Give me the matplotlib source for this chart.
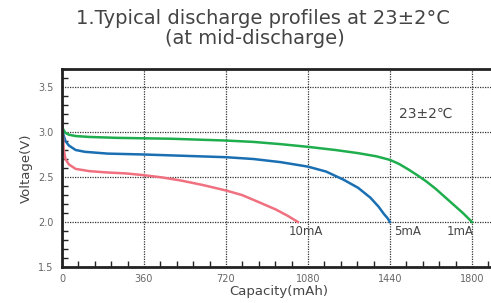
import matplotlib.pyplot as plt
from matplotlib.ticker import MultipleLocator

# discharge curves (capacity mAh, voltage V)
cap_1ma = [0, 5, 15, 30, 60, 120, 240, 360, 480, 600, 720, 840, 960, 1080, 1200, 1300,
           1380, 1440, 1480, 1520, 1560, 1600, 1640, 1680, 1720, 1760, 1800]
volt_1ma = [3.08, 3.03, 2.99, 2.97, 2.955, 2.945, 2.935, 2.93, 2.925, 2.915, 2.905, 2.89, 2.865, 2.835, 2.80, 2.765,
            2.73, 2.69, 2.645, 2.585, 2.52, 2.45, 2.37, 2.28, 2.19, 2.10, 2.00]

cap_5ma = [0, 5, 15, 30, 60, 100, 200, 360, 540, 720, 840, 960, 1080, 1160, 1236, 1300,
           1354, 1390, 1413, 1430, 1440]
volt_5ma = [3.07, 2.98, 2.90, 2.85, 2.80, 2.78, 2.76, 2.75, 2.735, 2.72, 2.70, 2.665, 2.615, 2.56, 2.47, 2.38,
            2.27, 2.17, 2.09, 2.04, 2.00]

cap_10ma = [0, 3, 8, 15, 30, 60, 120, 200, 280, 360, 440, 524, 620, 720, 790, 860, 938, 990, 1036]
volt_10ma = [3.18, 3.00, 2.80, 2.70, 2.64, 2.59, 2.565, 2.55, 2.54, 2.52, 2.495, 2.46, 2.41, 2.35, 2.30, 2.225,
             2.14, 2.07, 2.00]

curve_labels = ['10mA', '5mA', '1mA']
label_x = [995, 1460, 1690]

fig = plt.figure(figsize=(4.91, 3.03), dpi=100)
ax = fig.add_axes([62 / 491, 36 / 303, 1.0 - 62 / 491 + 0.01, 198 / 303])

ax.plot(cap_1ma, volt_1ma, color='#1fae4e', lw=1.8)
ax.plot(cap_5ma, volt_5ma, color='#1a6fb3', lw=1.8)
ax.plot(cap_10ma, volt_10ma, color='#f07080', lw=1.8)

ax.set_xlim(0, 1905)
ax.set_ylim(1.5, 3.7)
ax.xaxis.set_major_locator(MultipleLocator(360))
ax.xaxis.set_minor_locator(MultipleLocator(72))
ax.yaxis.set_major_locator(MultipleLocator(0.5))
ax.yaxis.set_minor_locator(MultipleLocator(0.1))
ax.tick_params(which='both', direction='in', colors='#222222', labelcolor='#666666',
               labelsize=7, width=1.0)
ax.tick_params(which='major', length=0)
ax.tick_params(which='minor', length=4)
ax.tick_params(axis='x', pad=5)
ax.tick_params(axis='y', pad=6)
ax.set_yticklabels(['', '1.5', '2.0', '2.5', '3.0', '3.5'])
ax.grid(True, which='major', color='#333333', ls=(0, (1, 1)), lw=0.9)

for s in ['left', 'bottom', 'top']:
    ax.spines[s].set_linewidth(2.0)
    ax.spines[s].set_color('#222222')
ax.spines['right'].set_visible(False)

for lab, xx in zip(curve_labels, label_x):
    ax.text(xx, 1.97, lab, fontsize=8.5, color='#444444', ha='left', va='top')
ax.text(1480, 3.2, '23±2℃', fontsize=10, color='#444444', ha='left', va='center')

ax.set_xlabel('Capacity(mAh)', fontsize=9.5, color='#444444', labelpad=1)
ax.set_ylabel('Voltage(V)', fontsize=9.5, color='#444444', labelpad=4)

fig.text(0.535, 1 - 19 / 303, '1.Typical discharge profiles at 23±2°C', fontsize=14,
         color='#444444', ha='center', va='center')
fig.text(0.52, 1 - 39 / 303, '(at mid-discharge)', fontsize=14,
         color='#444444', ha='center', va='center')

fig.savefig('out.png', dpi=100)
